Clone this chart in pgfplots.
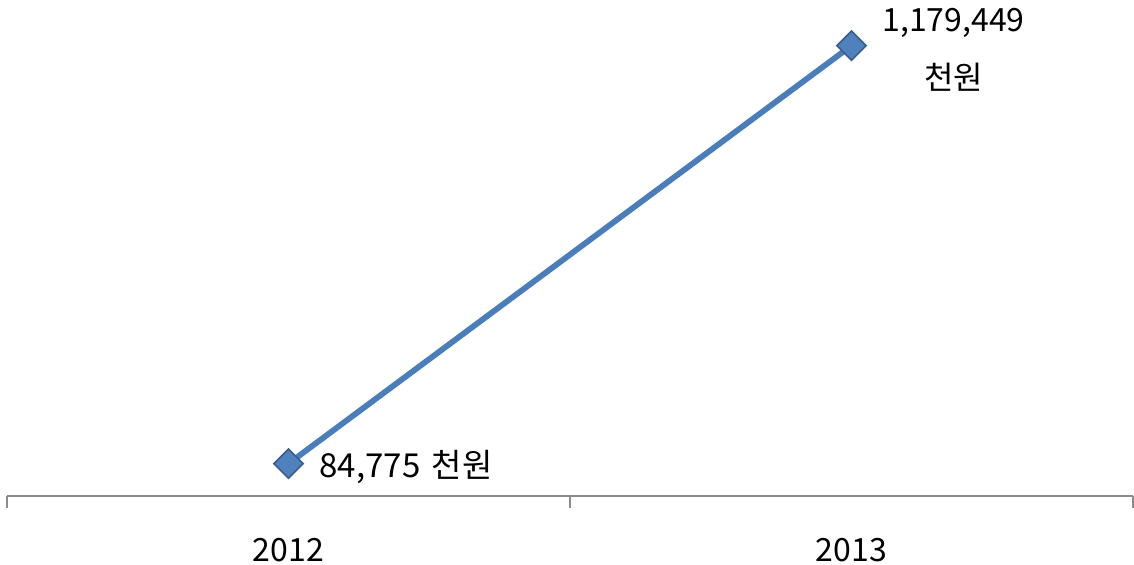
\documentclass[border=0pt]{standalone}
\usepackage{pgfplots}
\pgfplotsset{compat=1.18}
\usepackage{fontspec}
\setmainfont{Noto Sans CJK KR}
\definecolor{lineblue}{HTML}{4A7EBB}
\definecolor{markfill}{HTML}{4F81BD}
\definecolor{markedge}{HTML}{385D8A}
\definecolor{axisgray}{HTML}{8C8C8C}
\begin{document}
\begin{tikzpicture}
\useasboundingbox (0pt,0pt) rectangle (567pt,282.5pt);
\begin{axis}[
  at={(3.5pt,34.5pt)}, anchor=south west,
  scale only axis, width=563pt, height=248pt,
  xmin=-0.5, xmax=1.5, ymin=0, ymax=1299000,
  axis x line*=bottom, hide y axis,
  x axis line style={axisgray, line width=0.6pt},
  xtick={-0.5,0.5,1.5}, xticklabels={},
  tick align=outside, major tick length=6pt,
  xtick style={axisgray, line width=0.6pt},
  extra x ticks={0,1}, extra x tick labels={2012,2013},
  extra x tick style={major tick length=0pt, tick label style={yshift=-17.5pt}},
  tick label style={font=\fontsize{16}{19}\selectfont},
  clip=false,
]
\addplot[lineblue, line width=2.9pt, mark=square*, mark size=5.2pt,
  mark options={rotate=45, fill=markfill, draw=markedge, line width=0.8pt}]
  coordinates {(0,84775) (1,1179449)};
\node[anchor=west, font=\fontsize{16.5}{19}\selectfont, xshift=12pt, yshift=-1.5pt] at (axis cs:0,84775) {84,775\hspace{0.35em}천원};
\node[anchor=west, align=center, font=\fontsize{16}{29}\selectfont, xshift=12pt, yshift=-2pt] at (axis cs:1,1179449) {1,179,449\\천원};
\end{axis}
\end{tikzpicture}
\end{document}
